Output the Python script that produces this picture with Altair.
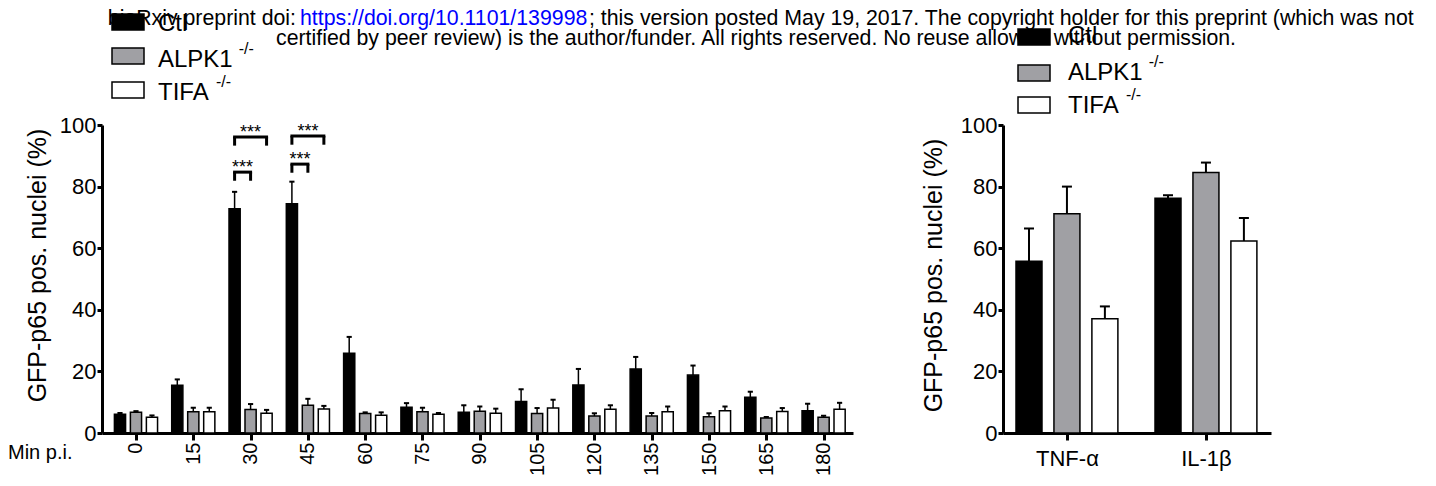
import altair as alt
import pandas as pd

FONT = "Liberation Sans"

# ---------------- data ----------------
minutes = [0, 15, 30, 45, 60, 75, 90, 105, 120, 135, 150, 165, 180]
series = ["Ctl", "ALPK1", "TIFA"]
series_sup = ["", "-/-", "-/-"]

ctl_mean = [6.1, 15.5, 72.8, 74.4, 25.9, 8.4, 6.7, 10.2, 15.6, 20.8, 18.8, 11.6, 7.2]
ctl_sem = [0.4, 1.9, 5.5, 7.2, 5.3, 1.3, 2.3, 4.0, 5.2, 3.9, 3.1, 1.8, 2.3]
alpk1_mean = [6.7, 6.9, 7.6, 9.0, 6.3, 6.9, 7.1, 6.3, 5.5, 5.5, 5.3, 4.9, 5.1]
alpk1_sem = [0.4, 1.3, 1.8, 2.1, 0.4, 1.3, 1.5, 1.8, 0.9, 1.0, 1.1, 0.3, 0.5]
tifa_mean = [5.1, 6.9, 6.4, 7.8, 5.8, 6.1, 6.4, 8.1, 7.7, 6.9, 7.2, 7.0, 7.7]
tifa_sem = [0.6, 1.3, 1.1, 1.0, 0.9, 0.4, 1.5, 2.7, 1.3, 1.7, 1.4, 1.1, 2.1]

stimuli = ["TNF-α", "IL-1β"]
stim_ctl_mean = [55.8, 76.2]
stim_ctl_sem = [10.6, 1.0]
stim_alpk1_mean = [71.2, 84.6]
stim_alpk1_sem = [8.8, 3.2]
stim_tifa_mean = [37.1, 62.3]
stim_tifa_sem = [4.0, 7.5]

sig_minute = [30, 30, 45, 45]
sig_from = ["Ctl", "Ctl", "Ctl", "Ctl"]
sig_to = ["ALPK1", "TIFA", "ALPK1", "TIFA"]
sig_level = [84.7, 96.1, 87.3, 96.4]
sig_label = ["***", "***", "***", "***"]

y_ticks = [0, 20, 40, 60, 80, 100]
y_title = "GFP-p65 pos. nuclei (%)"
x_left_title = "Min p.i."
header_1a = "bioRxiv preprint doi:"
header_1b = "https://doi.org/10.1101/139998"
header_1c = "; this version posted May 19, 2017. The copyright holder for this preprint (which was not"
header_2 = "certified by peer review) is the author/funder. All rights reserved. No reuse allowed without permission."

# ---------------- styles ----------------
FILL = ["#000000", "#a0a0a4", "#ffffff"]


def build(means, sems, n, off, bw, cw):
    rows = []
    for si, s in enumerate(series):
        for g in range(n):
            pos = g + (si - 1) * off
            rows.append(dict(series=s, g=g, pos=pos, x0=pos - bw / 2, x1=pos + bw / 2,
                             c0=pos - cw / 2, c1=pos + cw / 2,
                             mean=means[si][g], top=means[si][g] + sems[si][g]))
    return pd.DataFrame(rows)


OFF_L, BW_L, CW_L = 0.279, 0.195, 0.09
OFF_R, BW_R, CW_R = 0.273, 0.187, 0.072

dfL = build([ctl_mean, alpk1_mean, tifa_mean], [ctl_sem, alpk1_sem, tifa_sem],
            len(minutes), OFF_L, BW_L, CW_L)
dfR = build([stim_ctl_mean, stim_alpk1_mean, stim_tifa_mean],
            [stim_ctl_sem, stim_alpk1_sem, stim_tifa_sem], len(stimuli), OFF_R, BW_R, CW_R)

LEG = 2.8
sig = pd.DataFrame({"m": sig_minute, "a": sig_from, "b": sig_to, "lvl": sig_level, "lab": sig_label})
sig["xa"] = [minutes.index(m) + (series.index(a) - 1) * OFF_L for m, a in zip(sig_minute, sig_from)]
sig["xb"] = [minutes.index(m) + (series.index(b) - 1) * OFF_L for m, b in zip(sig_minute, sig_to)]
sig["xm"] = (sig["xa"] + sig["xb"]) / 2
sig["low"] = sig["lvl"] - LEG

color = alt.Color("series:N", scale=alt.Scale(domain=series, range=FILL), legend=None)
yS = alt.Scale(domain=[0, 100], nice=False, zero=True)


def yaxis(tx, ty):
    return alt.Axis(values=y_ticks, title=y_title, titleFontSize=25, titleFontWeight="normal",
                    titleAngle=270, titleAlign="center", titleBaseline="middle", titleX=tx, titleY=ty,
                    labelFontSize=22, labelPadding=1, tickSize=5, tickWidth=3, tickColor="black",
                    domainColor="black", domainWidth=3, labelColor="black", titleColor="black",
                    grid=False, labelFont=FONT, titleFont=FONT, labelFlush=False)


def xaxis(labels, angle, align, baseline, size, pad):
    expr = "[" + ",".join("'%s'" % l for l in labels) + "][datum.value]"
    return alt.Axis(values=list(range(len(labels))), labelExpr=expr, title=None, labelAngle=angle,
                    labelAlign=align, labelBaseline=baseline, labelFontSize=size, labelPadding=pad,
                    tickSize=7, tickWidth=3, tickColor="black", domainColor="black", domainWidth=3,
                    labelColor="black", grid=False, labelFont=FONT, labelFlush=False)


ONE = alt.Data(values=[{}])
HFS = 21.3


def txt(s, x, y, size, align="left", col="black"):
    return alt.Chart(ONE).mark_text(align=align, baseline="alphabetic", fontSize=size, font=FONT,
                                    color=col).encode(x=alt.value(x), y=alt.value(y), text=alt.value(s))


def box(x0, x1, y0, y1, fill):
    return alt.Chart(ONE).mark_rect(fill=fill, stroke="black", strokeWidth=1.5).encode(
        x=alt.value(x0), x2=alt.value(x1), y=alt.value(y0), y2=alt.value(y1))


def legend(x_box, x_lab, box_tops, baselines):
    layers = []
    widths = {"Ctl": 1.833, "ALPK1": 3.113, "TIFA": 2.167}
    for i, s in enumerate(series):
        layers.append(box(x_box, x_box + 32, box_tops[i], box_tops[i] + 16, FILL[i]))
        layers.append(txt(s, x_lab, baselines[i], 24))
        if series_sup[i]:
            layers.append(txt(series_sup[i], x_lab + widths[s] * 24 + 6, baselines[i] - 13, 16))
    return layers


def panel(df, xscale, xax, yax, errw):
    base = alt.Chart(df)
    err = base.mark_rule(color="black", strokeWidth=errw).encode(
        x=alt.X("pos:Q", scale=xscale, axis=xax), y=alt.Y("mean:Q", scale=yS, axis=yax), y2="top:Q")
    cap = base.mark_rule(color="black", strokeWidth=2).encode(
        x=alt.X("c0:Q", scale=xscale, axis=xax), x2="c1:Q", y=alt.Y("top:Q", scale=yS, axis=yax))
    bars = base.mark_bar(stroke="black", strokeWidth=1.5).encode(
        x=alt.X("x0:Q", scale=xscale, axis=xax), x2="x1:Q",
        y=alt.Y("mean:Q", scale=yS, axis=yax), y2=alt.datum(0), fill=color)
    return [err, cap, bars]


xL = alt.Scale(domain=[-0.593, 12.513], nice=False, zero=False)
xR = alt.Scale(domain=[-0.46, 1.468], nice=False, zero=False)
xaxL = xaxis([str(m) for m in minutes], 270, "right", "middle", 20, 2)
yaxL = yaxis(-65, 140)
xaxR = xaxis(stimuli, 0, "center", "top", 22, 8)
yaxR = yaxis(-70, 150)

left_layers = panel(dfL, xL, xaxL, yaxL, 1.5)

sb = alt.Chart(sig)
left_layers += [
    sb.mark_rule(color="black", strokeWidth=3, strokeCap="square").encode(
        x=alt.X("xa:Q", scale=xL, axis=xaxL), x2="xb:Q", y=alt.Y("lvl:Q", scale=yS, axis=yaxL)),
    sb.mark_rule(color="black", strokeWidth=3).encode(
        x=alt.X("xa:Q", scale=xL, axis=xaxL), y=alt.Y("lvl:Q", scale=yS, axis=yaxL), y2="low:Q"),
    sb.mark_rule(color="black", strokeWidth=3).encode(
        x=alt.X("xb:Q", scale=xL, axis=xaxL), y=alt.Y("lvl:Q", scale=yS, axis=yaxL), y2="low:Q"),
    sb.mark_text(baseline="alphabetic", fontSize=18, font=FONT, color="black", dy=1).encode(
        x=alt.X("xm:Q", scale=xL, axis=xaxL), y=alt.Y("lvl:Q", scale=yS, axis=yaxL), text="lab:N"),
]

left_layers += [
    txt(x_left_title, -94, 334, 20),
    txt(header_1a, 194, -100, HFS, align="right"),
    txt(header_1b, 198, -100, HFS, col="#0000ff"),
    txt(header_1c, 487, -100, HFS),
    txt(header_2, 654, -80, HFS, align="center"),
]
left_layers += legend(10, 56, [-111, -77, -43], [-94, -58, -25])

left = alt.layer(*left_layers).properties(width=751, height=308)

right_layers = panel(dfR, xR, xaxR, yaxR, 2)
right_layers += legend(15, 65, [-96, -60, -28], [-82, -45, -12])
right = alt.layer(*right_layers).properties(width=268, height=308)

chart = alt.HConcatChart(hconcat=[left, right], spacing=150, bounds="flush", padding=0).configure(
    font=FONT, view=alt.ViewConfig(stroke=None))

chart.save("out.html", embed_options={"renderer": "svg", "actions": False})
